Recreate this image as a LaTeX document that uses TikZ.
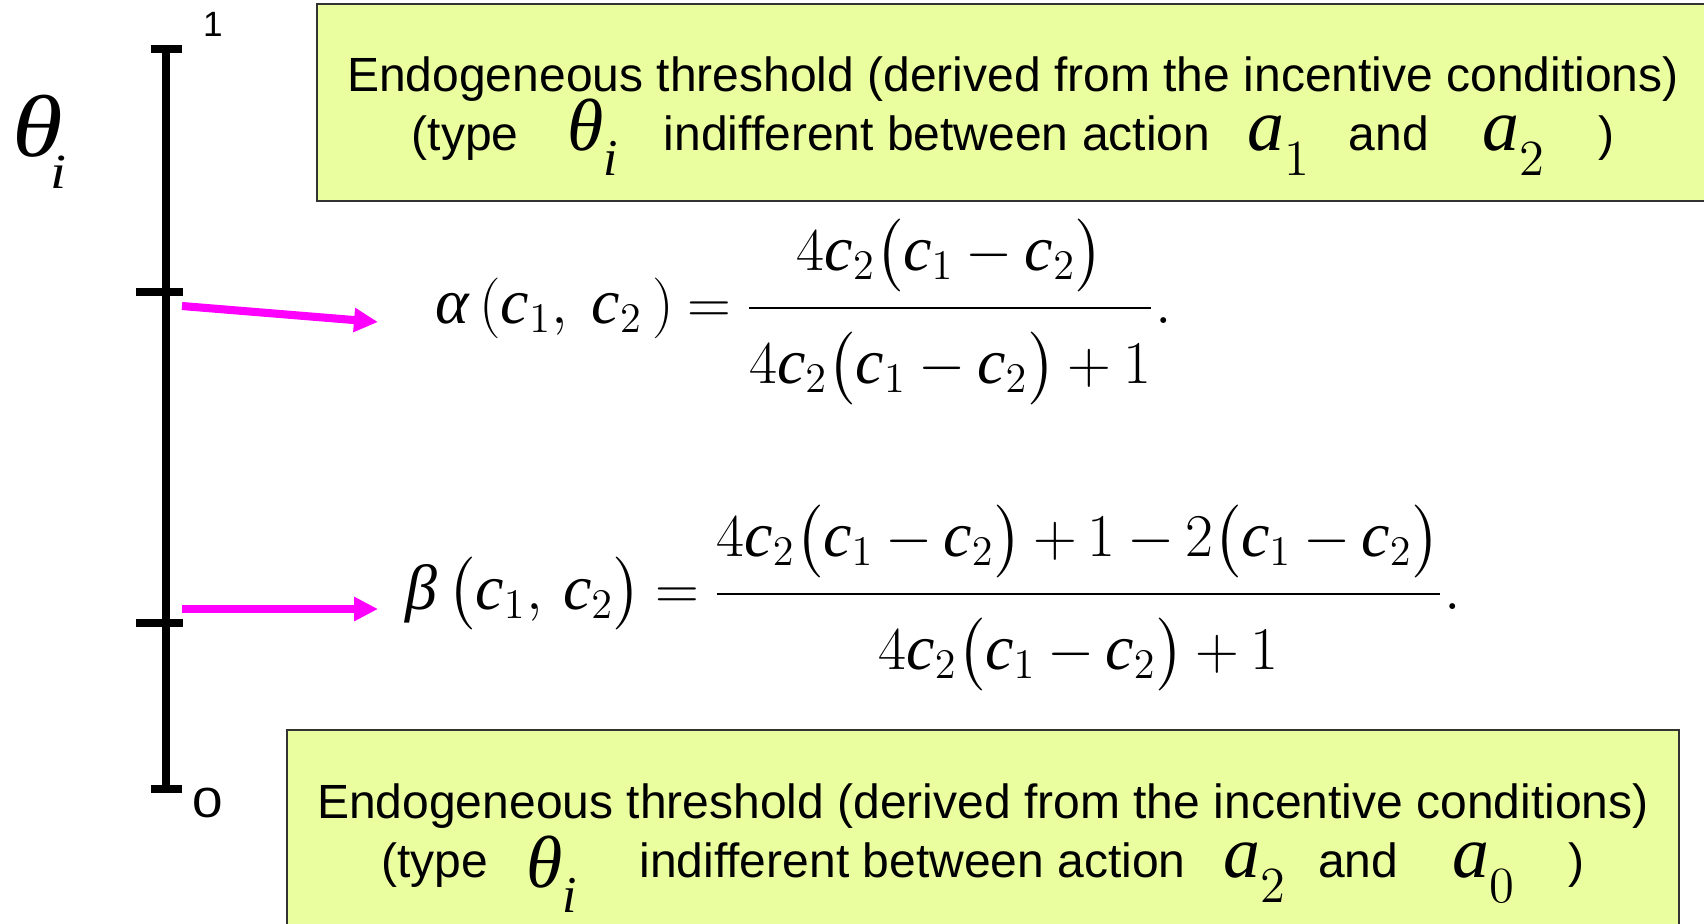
\documentclass[tikz,border=0pt]{standalone}
\usepackage{amsmath}
\usepackage{graphicx}
\usepackage{fontspec}
\setmainfont{Liberation Sans}
\newfontfamily\tmsfamily[NFSSFamily=tmsx]{Liberation Serif}
\DeclareSymbolFont{tletters}{TU}{tmsx}{m}{it}
\DeclareSymbolFont{tdigits}{TU}{tmsx}{m}{n}
\DeclareMathSymbol{a}{\mathalpha}{tletters}{`a}
\DeclareMathSymbol{c}{\mathalpha}{tletters}{`c}
\DeclareMathSymbol{i}{\mathalpha}{tletters}{`i}
\DeclareMathSymbol{0}{\mathalpha}{tdigits}{`0}
\DeclareMathSymbol{1}{\mathalpha}{tdigits}{`1}
\DeclareMathSymbol{2}{\mathalpha}{tdigits}{`2}
\DeclareMathSymbol{4}{\mathalpha}{tdigits}{`4}
\Umathchardef\alpha="0 \symtletters "03B1
\Umathchardef\beta="0 \symtletters "03B2
\Umathchardef\theta="0 \symtletters "03B8
\usetikzlibrary{arrows.meta,positioning,calc}
\definecolor{ThreshFill}{HTML}{EAFE9F}
\definecolor{ThreshLine}{HTML}{333333}
\definecolor{PointerPink}{HTML}{FF00FF}
\tikzset{
  scaleline/.style={line width=2pt, draw=black},
  pointer/.style={-{Triangle[length=2.4mm,width=2.3mm]}, line width=2.3pt, draw=PointerPink},
  threshbox/.style={draw=ThreshLine, fill=ThreshFill, line width=0.7pt,
                    minimum width=13.92cm, minimum height=1.97cm, inner sep=0pt},
  threshtext/.style={align=center, inner sep=0pt, font=\fontsize{13.66}{17}\selectfont},
  formula/.style={inner sep=0pt, font=\fontsize{18.2}{22}\selectfont},
}
% MathType-like symbols with a dropped index
\newcommand{\boxmath}[2]{\smash{\fontsize{21}{21}\selectfont$#1_{\lower4pt\hbox{$\scriptstyle#2$}}$}}

\begin{document}
\begin{tikzpicture}
  \useasboundingbox (0,0) rectangle (17.04,9.23);
  \clip (0,0) rectangle (17.04,9.23);

  % the type scale
  \coordinate (top) at (1.66,8.74);
  \coordinate (bot) at (1.66,1.34);
  \coordinate (alphaTick) at (1.66,6.31);
  \coordinate (betaTick) at (1.66,3.00);
  \draw[scaleline] (bot) -- (top);
  \draw[scaleline] ($(top)+(-0.15,0)$) -- ++(0.31,0);
  \draw[scaleline] ($(bot)+(-0.15,0)$) -- ++(0.31,0);
  \draw[scaleline] ($(alphaTick)+(-0.30,0)$) -- ++(0.47,0);
  \draw[scaleline] ($(betaTick)+(-0.30,0)$) -- ++(0.47,0);
  \node[inner sep=0pt, font=\fontsize{10}{12}\selectfont] (one) at (2.13,8.99) {1};
  \node[inner sep=0pt, font=\fontsize{12}{14}\selectfont] (zero) at (2.08,1.20) {\scalebox{1.3}[1]{0}};
  \node[inner sep=0pt, anchor=base west, font=\fontsize{25}{25}\selectfont] (thetaLabel) at (0.12,7.66)
    {\scalebox{1.17}[1]{$\theta\kern-3pt\lower9pt\hbox{\fontsize{14}{14}\selectfont$i$}$}};

  % threshold boxes
  \node[threshbox] (upperBox) at (10.13,8.205) {};
  \node[threshtext] (upperText) at ([yshift=-0.06cm]upperBox.center)
    {Endogeneous threshold (derived from the incentive conditions)\\
     (type\hspace{0.49cm}\boxmath{\theta}{i}\hspace{0.44cm}indifferent between action\hspace{0.37cm}\boxmath{a}{1}\hspace{0.38cm}and\hspace{0.54cm}\boxmath{a}{2}\hspace{0.52cm})};
  \node[threshbox] (lowerBox) at (9.83,0.945) {};
  \node[threshtext] (lowerText) at ([yshift=-0.07cm]lowerBox.center)
    {Endogeneous threshold (derived from the incentive conditions)\\
     (type\hspace{0.38cm}\raisebox{-0.1cm}{\boxmath{\theta}{i}}\hspace{0.61cm}indifferent between action\hspace{0.38cm}\boxmath{a}{2}\hspace{0.31cm}and\hspace{0.54cm}\boxmath{a}{0}\hspace{0.53cm})};

  % thresholds
  \node[formula, anchor=west] (alpha) at (4.35,6.11)
    {$\thickmuskip=4mu \medmuskip=3.5mu
      \alpha\,(c_1,\;c_2\,)=\dfrac{4c_2\bigl(c_1-c_2\bigr)\rule[-0.45em]{0pt}{1pt}}{\rule{0pt}{1.05em}4c_2\bigl(c_1-c_2\bigr)+1}.$};
  \node[formula, anchor=west] (beta) at (4.05,3.25)
    {$\thickmuskip=4mu \medmuskip=3.3mu
      \beta\,\bigl(c_1,\,c_2\bigr)=\dfrac{4c_2\bigl(c_1-c_2\bigr)+1-2\bigl(c_1-c_2\bigr)\rule[-0.45em]{0pt}{1pt}}{\rule{0pt}{1.05em}4c_2\bigl(c_1-c_2\bigr)+1}.$};

  \coordinate (alphaFrom) at (1.82,6.17);
  \coordinate (alphaTo) at (3.78,6.01);
  \coordinate (betaFrom) at (1.82,3.14);
  \coordinate (betaTo) at (3.78,3.14);
  \draw[pointer] (alphaFrom) -- (alphaTo);
  \draw[pointer] (betaFrom) -- (betaTo);
\end{tikzpicture}
\end{document}
